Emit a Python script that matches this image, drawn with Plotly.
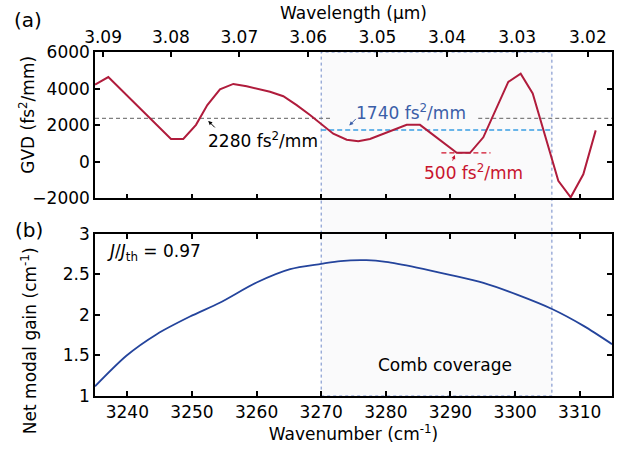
import plotly.graph_objects as go

# ---------------- data ----------------
gvd_wavenumber = [3235.0, 3237.06, 3246.76, 3248.66, 3250.63, 3252.38, 3254.34, 3256.40,
                  3258.47, 3262.08, 3264.14, 3266.21, 3268.27, 3270.08, 3271.87, 3273.95,
                  3275.74, 3277.55, 3280.14, 3283.23, 3285.29, 3290.97, 3293.03, 3295.09,
                  3298.95, 3300.87, 3302.73, 3306.69, 3308.61, 3310.56, 3312.48]
gvd_values = [4216, 4632, 1243, 1243, 2016, 3097, 3962, 4254,
              4124, 3822, 3584, 3097, 2557, 2016, 1530, 1205,
              1119, 1243, 1605, 2016, 2016, 486, 486, 1335,
              4362, 4811, 3730, -1043, -1946, -686, 1714]

gain_wavenumber = [3235.0, 3239.9, 3244.5, 3249.7, 3254.3, 3260.0, 3265.2, 3270.0, 3273.0,
                   3277.0, 3280.0, 3284.8, 3289.9, 3295.1, 3300.3, 3305.8, 3310.6, 3315.0]
gain_values = [1.12, 1.50, 1.76, 1.98, 2.15, 2.40, 2.565, 2.63, 2.665,
               2.675, 2.655, 2.585, 2.495, 2.395, 2.25, 2.07, 1.865, 1.64]

wavelength_ticks = [3.09, 3.08, 3.07, 3.06, 3.05, 3.04, 3.03, 3.02]
wavenumber_ticks = [3240, 3250, 3260, 3270, 3280, 3290, 3300, 3310]
gvd_ticks = [-2000, 0, 2000, 4000, 6000]
gain_ticks = [1, 1.5, 2, 2.5, 3]

comb_range = [3270.0, 3305.7]
mean_gvd_level = 2370          # labelled 2280 fs²/mm
mean_gvd_segments = [[3235.0, 3271.7], [3294.3, 3315.0]]
comb_gvd_level = 1740
comb_gvd_span = [3270.0, 3305.7]
min_gvd_level = 486            # labelled 500 fs²/mm
min_gvd_span = [3288.6, 3296.2]

x_range = [3235, 3315]

FONT = "DejaVu Sans"
FS = 17
RED = "#b01c3c"
BLUE = "#24449c"

fig = go.Figure()

# comb coverage region
fig.add_shape(type="rect", xref="x", yref="paper", x0=comb_range[0], x1=comb_range[1],
              y0=0, y1=1, fillcolor="#fafafb", layer="below",
              line=dict(color="#6f88c8", width=1, dash="dot"))

# reference dashed lines
for seg in mean_gvd_segments:
    fig.add_trace(go.Scatter(x=seg, y=[mean_gvd_level] * 2, mode="lines",
                             line=dict(color="#7f7f7f", width=1.2, dash="4px,3px"),
                             xaxis="x", yaxis="y", showlegend=False, hoverinfo="skip"))
fig.add_trace(go.Scatter(x=comb_gvd_span, y=[comb_gvd_level] * 2, mode="lines",
                         line=dict(color="#3a9ee4", width=1.5, dash="5px,3px"),
                         xaxis="x", yaxis="y", showlegend=False, hoverinfo="skip"))
fig.add_trace(go.Scatter(x=min_gvd_span, y=[min_gvd_level] * 2, mode="lines",
                         line=dict(color="#d0102a", width=1.2, dash="5px,3px"),
                         xaxis="x", yaxis="y", showlegend=False, hoverinfo="skip"))

# GVD curve
fig.add_trace(go.Scatter(x=gvd_wavenumber, y=gvd_values, mode="lines",
                         line=dict(color=RED, width=2),
                         xaxis="x", yaxis="y", showlegend=False))
# invisible trace to activate the wavelength axis
fig.add_trace(go.Scatter(x=gvd_wavenumber, y=gvd_values, mode="lines",
                         line=dict(color="rgba(0,0,0,0)", width=0),
                         xaxis="x3", yaxis="y", showlegend=False, hoverinfo="skip"))

# gain curve
fig.add_trace(go.Scatter(x=gain_wavenumber, y=gain_values, mode="lines",
                         line=dict(color=BLUE, width=1.8, shape="spline", smoothing=0.8),
                         xaxis="x2", yaxis="y2", showlegend=False))

axis_common = dict(showline=True, linecolor="black", linewidth=1.5, ticks="inside",
                   ticklen=5, tickwidth=1.5, tickcolor="black", showgrid=False,
                   zeroline=False, tickfont=dict(family=FONT, size=FS, color="black"))

top_dom = [(396 - 196) / 348, 1.0]
bot_dom = [0.0, (396 - 232) / 348]

fig.update_layout(
    width=628, height=453,
    margin=dict(l=95, r=16, t=48, b=57),
    paper_bgcolor="white", plot_bgcolor="rgba(0,0,0,0)",
    font=dict(family=FONT, size=FS, color="black"),
    xaxis=dict(axis_common, range=x_range, domain=[0, 1], anchor="y",
               tickvals=wavenumber_ticks, showticklabels=False, mirror=False),
    xaxis3=dict(axis_common, range=x_range, overlaying="x", side="top", anchor="y",
                tickvals=[10000 / w for w in wavelength_ticks],
                ticktext=[f"{w:.2f}" for w in wavelength_ticks],
                title=dict(text="Wavelength (µm)", font=dict(family=FONT, size=FS), standoff=4)),
    yaxis=dict(axis_common, range=[-2000, 6000], domain=top_dom, anchor="x",
               tickvals=gvd_ticks, mirror="ticks"),
    xaxis2=dict(axis_common, range=x_range, domain=[0, 1], anchor="y2",
                tickvals=wavenumber_ticks, mirror="ticks",
                title=dict(text="Wavenumber (cm<sup>-1</sup>)", font=dict(family=FONT, size=FS),
                           standoff=2)),
    yaxis2=dict(axis_common, range=[1, 3], domain=bot_dom, anchor="x2",
                tickvals=gain_ticks, ticktext=["1", "1.5", "2", "2.5", "3"], mirror="ticks"),
)

def px_x(px):
    return (px - 95) / 517

def px_y(py):
    return (396 - py) / 348

annots = [
    dict(text="(a)", x=px_x(28), y=px_y(16), xref="paper", yref="paper",
         showarrow=False, font=dict(size=20), xanchor="center", yanchor="middle"),
    dict(text="(b)", x=px_x(29), y=px_y(228), xref="paper", yref="paper",
         showarrow=False, font=dict(size=20), xanchor="center", yanchor="middle"),
    dict(text="GVD (fs<sup>2</sup>/mm)", x=px_x(27.5), y=px_y(112), xref="paper", yref="paper",
         showarrow=False, textangle=-90, xanchor="center", yanchor="middle"),
    dict(text="Net modal gain (cm<sup>-1</sup>)", x=px_x(28.5), y=px_y(340), xref="paper",
         yref="paper", showarrow=False, textangle=-90, xanchor="center", yanchor="middle"),
    # text labels
    dict(text="2280 fs<sup>2</sup>/mm", x=3261.0, y=1190, xref="x", yref="y",
         showarrow=False, font=dict(color="black")),
    dict(text="1740 fs<sup>2</sup>/mm", x=3283.9, y=2703, xref="x", yref="y",
         showarrow=False, font=dict(color="#3b5ea8")),
    dict(text="500 fs<sup>2</sup>/mm", x=3293.5, y=-540, xref="x", yref="y",
         showarrow=False, font=dict(color="#c8142e")),
    # arrows
    dict(text="", x=3252.53, y=2232, xref="x", yref="y", showarrow=True, ax=8, ay=8,
         arrowhead=2, arrowsize=0.8, arrowwidth=1, arrowcolor="black"),
    dict(text="", x=3274.35, y=1984, xref="x", yref="y", showarrow=True, ax=8, ay=-8,
         arrowhead=2, arrowsize=0.8, arrowwidth=1, arrowcolor="#3b5ea8"),
    dict(text="", x=3290.7, y=362, xref="x", yref="y", showarrow=True, ax=-3, ay=7,
         arrowhead=2, arrowsize=0.8, arrowwidth=1, arrowcolor="#c8142e"),
    dict(text="<i>J</i>/<i>J</i><sub>th</sub> = 0.97", x=3236.5, y=2.775, xref="x2", yref="y2",
         showarrow=False, xanchor="left", yanchor="middle"),
    dict(text="Comb coverage", x=3289.16, y=1.379, xref="x2", yref="y2",
         showarrow=False, xanchor="center", yanchor="middle"),
]
fig.update_layout(annotations=annots)

fig.write_html("out.html", config={"displayModeBar": False},
               post_script="document.body.style.margin='0';document.body.style.overflow='hidden';")
